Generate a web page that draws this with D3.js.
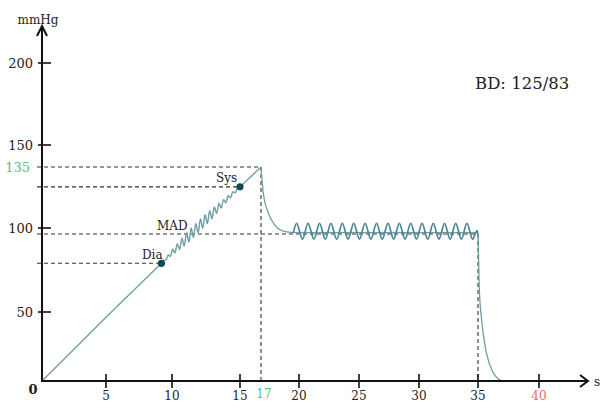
<!DOCTYPE html>
<html><head><meta charset="utf-8">
<script src="https://cdn.jsdelivr.net/npm/d3@7"></script>
<style>
html,body{margin:0;padding:0;background:#fff;}
svg{display:block;font-family:"DejaVu Serif","Liberation Serif",serif;}
</style></head>
<body><svg id="c" width="603" height="402"></svg>
<script>
// ---- data ----
const xTickValues = [5,10,15,20,25,30,35,40];
const yTickValues = [50,100,150,200];
const markT = 17, markP = 135;          // cuff peak
const sysT = 15, sysP = 123.6;          // systolic point
const diaT = 9.2, diaP = 79;            // diastolic point
const madP = 96.4;                       // mean pressure level
const endT = 35;                         // end of plateau
const bdText = "BD: 125/83";

// straight inflation ramp
const rampT = [0, 5, 9.2];
const rampP = [0, 46.2, 79];
// oscillating part of the ramp (Dia -> Sys)
const riseT = [9.20,9.37,9.54,9.71,9.88,10.05,10.22,10.39,10.56,10.73,10.90,11.07,11.24,11.41,11.58,11.75,11.92,12.09,12.26,12.43,12.60,12.77,12.94,13.11,13.28,13.45,13.62,13.79,13.96,14.13,14.30,14.47,14.64,14.81,14.98];
const riseP = [79.0,80.9,80.9,84.0,83.1,87.4,85.1,90.7,87.1,94.0,89.3,97.2,91.6,100.0,94.3,102.6,97.0,105.2,99.8,107.6,102.5,109.9,105.3,112.1,108.4,114.2,111.4,116.3,114.4,118.5,117.3,120.8,120.2,122.8,123.6];
// Sys -> peak
const topT = [15, 17];
const topP = [123.6, 135];
// deflation from the peak to the plateau
const fallT = [17, 17.18, 17.58, 18.1, 18.9, 19.55];
const fallP = [135, 120.1, 108.6, 101.7, 97.8, 97.2];
// plateau oscillation
const plateauT = [19.55,19.81,20.29,20.76,21.24,21.71,22.19,22.66,23.14,23.61,24.09,24.56,25.04,25.51,25.99,26.46,26.94,27.41,27.89,28.36,28.84,29.31,29.79,30.26,30.74,31.21,31.69,32.16,32.64,33.11,33.59,34.06,34.54,34.92,35.0];
const plateauP = [97.2,102.7,93.3,102.7,93.3,102.7,93.3,102.7,93.3,102.7,93.3,102.7,93.3,102.7,93.3,102.7,93.3,102.7,93.3,102.7,93.3,102.7,93.3,102.7,93.3,102.7,93.3,102.7,93.3,102.7,93.3,102.7,93.3,98.5,96.0];
const baseT = [19.55, 35];
const baseP = [97.2, 97.2];
// final release
const dropT = [35.0, 35.04, 35.1, 35.3, 35.7, 36.25, 36.95];
const dropP = [96.0, 85, 65, 44, 20, 6, 0];

// ---- scales (hand-drawn axis spacing -> piecewise linear) ----
const x = d3.scaleLinear().domain([0,5,10,15,17,20,25,30,35,40]).range([42,106,172,240,261,299,359,419,478,539]);
const y = d3.scaleLinear().domain([0,50,100,135,150,200]).range([381,312,228,167,145,63]);

const svg = d3.select("#c");
const zip = (a,b)=>a.map((v,i)=>[v,b[i]]);
const lineM = d3.line().x(d=>x(d[0])).y(d=>y(d[1])).curve(d3.curveMonotoneX);
const lineL = d3.line().x(d=>x(d[0])).y(d=>y(d[1]));

const dashC = "#333", dashA = "4,3";
const x0 = x(0), y0 = y(0);

// dashed guides
const hGuides = [[markP, markT],[sysP, sysT],[madP, endT],[diaP, diaT]];
svg.append("g").selectAll("line").data(hGuides).join("line")
  .attr("x1", x0-5).attr("x2", d=>x(d[1]))
  .attr("y1", d=>y(d[0])).attr("y2", d=>y(d[0]))
  .attr("stroke", dashC).attr("stroke-width",1.1).attr("stroke-dasharray",dashA);
const vGuides = [[markT, markP],[endT, madP]];
svg.append("g").selectAll("line").data(vGuides).join("line")
  .attr("x1", d=>x(d[0])).attr("x2", d=>x(d[0]))
  .attr("y1", d=>y(d[1])).attr("y2", y0)
  .attr("stroke", dashC).attr("stroke-width",1.1).attr("stroke-dasharray",dashA);

// curves
const lc = "#6f9ca5", wc = "#4f8694";
svg.append("path").attr("d", lineL(zip(rampT,rampP))).attr("fill","none").attr("stroke",lc).attr("stroke-width",1.3);
svg.append("path").attr("d", lineM(zip(riseT,riseP))).attr("fill","none").attr("stroke",lc).attr("stroke-width",1.4);
svg.append("path").attr("d", lineL(zip(topT,topP))).attr("fill","none").attr("stroke",lc).attr("stroke-width",1.3);
svg.append("path").attr("d", lineM(zip(fallT,fallP))).attr("fill","none").attr("stroke",lc).attr("stroke-width",1.3);
svg.append("path").attr("d", lineL(zip(baseT,baseP))).attr("fill","none").attr("stroke",lc).attr("stroke-width",1.2);
svg.append("path").attr("d", lineM(zip(plateauT,plateauP))).attr("fill","none").attr("stroke",wc).attr("stroke-width",1.7);
svg.append("path").attr("d", lineM(zip(dropT,dropP))).attr("fill","none").attr("stroke",lc).attr("stroke-width",1.3);

// points
svg.append("g").selectAll("circle").data([[sysT,sysP],[diaT,diaP]]).join("circle")
  .attr("cx",d=>x(d[0])).attr("cy",d=>y(d[1])).attr("r",3.6).attr("fill","#0d4752");

// axes
const ax = svg.append("g").attr("stroke","#111").attr("stroke-width",2).attr("fill","none");
ax.append("line").attr("x1",x0).attr("x2",x0).attr("y1",y0+1).attr("y2",26);
ax.append("path").attr("d",`M${x0-5},${36} L${x0},${26} L${x0+5},${36}`).attr("stroke-linejoin","miter");
ax.append("line").attr("x1",x0-1).attr("x2",588).attr("y1",y0).attr("y2",y0);
ax.append("path").attr("d",`M${580},${y0-6} L${588},${y0} L${580},${y0+6}`);
// tick marks
ax.append("g").selectAll("line").data(yTickValues).join("line")
  .attr("x1",x0-4).attr("x2",x0+9).attr("y1",d=>y(d)).attr("y2",d=>y(d)).attr("stroke-width",1.6);
ax.append("g").selectAll("line").data(xTickValues).join("line")
  .attr("x1",d=>x(d)).attr("x2",d=>x(d)).attr("y1",y0-7).attr("y2",y0+7).attr("stroke-width",1.6);

// tick labels
const tc = "#222";
svg.append("g").selectAll("text").data(yTickValues).join("text")
  .attr("x",33).attr("y",d=>y(d)).attr("dy","0.35em").attr("text-anchor","end")
  .attr("font-size",13).attr("fill",tc).text(d=>d);
svg.append("text").attr("x",30).attr("y",y(markP)).attr("dy","0.35em").attr("text-anchor","end")
  .attr("font-size",13).attr("fill","#4fbf86").text(markP);
svg.append("g").selectAll("text").data(xTickValues).join("text")
  .attr("x",d=>x(d)).attr("y",400).attr("text-anchor","middle")
  .attr("font-size",12).attr("fill",d=>d===40?"#ee6b6b":tc).text(d=>d);
svg.append("text").attr("x",x(markT)+3).attr("y",398).attr("text-anchor","middle")
  .attr("font-size",12).attr("fill","#4fbf86").text(markT);
svg.append("text").attr("x",33).attr("y",394).attr("text-anchor","middle")
  .attr("font-size",13).attr("font-weight","bold").attr("fill",tc).text(0);

// axis titles
svg.append("text").attr("x",38).attr("y",24).attr("text-anchor","middle")
  .attr("font-size",12).attr("fill",tc).text("mmHg");
svg.append("text").attr("x",594).attr("y",386)
  .attr("font-size",12).attr("fill",tc).text("s");

// annotations
svg.append("text").attr("x",216).attr("y",182).attr("font-size",12).attr("fill",tc).text("Sys");
svg.append("text").attr("x",157).attr("y",230).attr("font-size",12).attr("fill",tc).text("MAD");
svg.append("text").attr("x",142).attr("y",259).attr("font-size",12).attr("fill",tc).text("Dia");
svg.append("text").attr("x",475).attr("y",89).attr("font-size",16.5).attr("fill",tc).text(bdText);
</script></body></html>
